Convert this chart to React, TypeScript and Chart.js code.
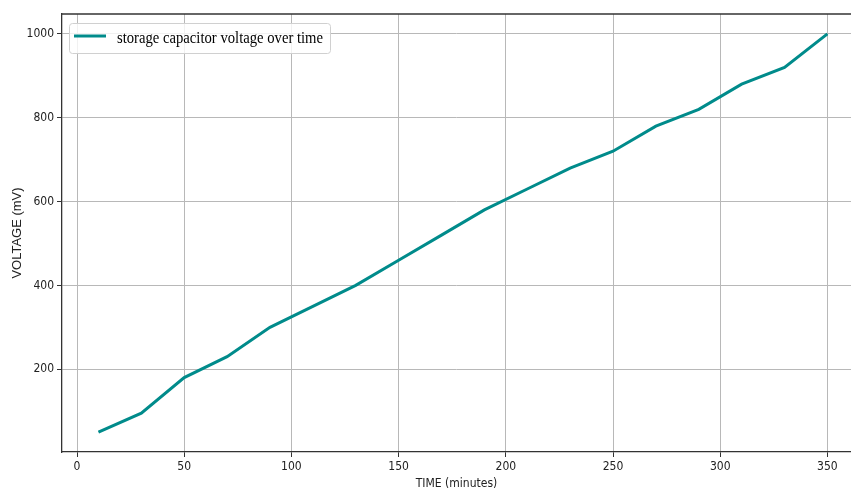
import { useEffect, useRef } from "react";
import { Chart, registerables } from "chart.js";

Chart.register(...registerables);

// ---- data ----
const times = [10, 30, 50, 70, 90, 110, 130, 150, 170, 190, 210, 230, 250, 270, 290, 310, 330, 350];
const voltages = [50, 95, 180, 230, 300, 350, 400, 460, 520, 580, 630, 680, 720, 780, 820, 880, 920, 1000];
const xTicks = [0, 50, 100, 150, 200, 250, 300, 350];
const yTicks = [200, 400, 600, 800, 1000];
const seriesLabel = "storage capacitor voltage over time";
const xTitle = "TIME (minutes)";
const yTitle = "VOLTAGE (mV)";

const LINE_COLOR = "#008b8b";
const SPINE = "#333333";
const GRID = "#b8b8b8";
const TICK_FONT = "'DejaVu Sans Condensed', 'DejaVu Sans', sans-serif";

const topSpine = {
  id: "topSpine",
  afterDraw(chart: any) {
    const { ctx, chartArea } = chart;
    ctx.save();
    ctx.strokeStyle = SPINE;
    ctx.lineWidth = 1.3;
    ctx.beginPath();
    ctx.moveTo(chartArea.left, chartArea.top);
    ctx.lineTo(chartArea.right, chartArea.top);
    ctx.stroke();
    ctx.restore();
  },
};

const innerLegend = {
  id: "innerLegend",
  afterDraw(chart: any) {
    const { ctx, chartArea } = chart;
    const ds = chart.data.datasets[0];
    const x0 = chartArea.left + 7;
    const y0 = chartArea.top + 9;
    const w = 261;
    const h = 30;
    ctx.save();
    ctx.fillStyle = "rgba(255,255,255,0.8)";
    ctx.strokeStyle = "#d0d0d0";
    ctx.lineWidth = 1;
    ctx.beginPath();
    (ctx as any).roundRect(x0 + 0.5, y0 + 0.5, w, h, 3);
    ctx.fill();
    ctx.stroke();
    ctx.strokeStyle = ds.borderColor;
    ctx.lineWidth = 3;
    ctx.beginPath();
    ctx.moveTo(x0 + 5, y0 + 13);
    ctx.lineTo(x0 + 37, y0 + 13);
    ctx.stroke();
    ctx.fillStyle = "#000";
    ctx.font = "16px 'Liberation Serif', 'Times New Roman', serif";
    ctx.textBaseline = "alphabetic";
    const text = ds.label;
    const mw = ctx.measureText(text).width;
    const target = 206;
    const sx = Math.min(1, target / mw);
    ctx.translate(x0 + 48, y0 + 19.5);
    ctx.scale(sx, 1);
    ctx.fillText(text, 0, 0);
    ctx.restore();
  },
};

export default function App() {
  const ref = useRef<HTMLCanvasElement | null>(null);

  useEffect(() => {
    document.body.style.margin = "0";
    const canvas = ref.current;
    if (!canvas) return;
    const chart = new Chart(canvas, {
      type: "line",
      data: {
        datasets: [
          {
            label: seriesLabel,
            data: times.map((t, i) => ({ x: t, y: voltages[i] })),
            borderColor: LINE_COLOR,
            backgroundColor: LINE_COLOR,
            borderWidth: 3,
            pointRadius: 0,
            tension: 0,
            fill: false,
          },
        ],
      },
      options: {
        responsive: false,
        animation: false,
        layout: { padding: { top: 14, right: 0, left: 0, bottom: 0 } },
        plugins: {
          legend: { display: false },
          tooltip: { enabled: false },
        },
        scales: {
          x: {
            type: "linear",
            min: -7,
            max: 361,
            afterBuildTicks: (scale: any) => {
              scale.ticks = xTicks.map((v) => ({ value: v }));
            },
            afterFit: (scale: any) => {
              scale.height = 39;
            },
            grid: {
              color: GRID,
              lineWidth: 1,
              drawTicks: true,
              tickLength: 5,
              tickColor: SPINE,
              tickWidth: 1,
            },
            border: { display: true, color: SPINE, width: 1.3 },
            ticks: {
              color: "#222",
              font: { family: TICK_FONT, size: 12 },
              padding: 3,
              maxRotation: 0,
              autoSkip: false,
              callback: (v: any) => String(v),
            },
            title: {
              display: true,
              text: xTitle,
              color: "#222",
              font: { family: TICK_FONT, size: 12 },
              padding: { top: 0, bottom: 0 },
            },
          },
          y: {
            type: "linear",
            min: 2.5,
            max: 1047.5,
            afterBuildTicks: (scale: any) => {
              scale.ticks = yTicks.map((v) => ({ value: v }));
            },
            afterFit: (scale: any) => {
              scale.width = 62;
            },
            grid: {
              color: GRID,
              lineWidth: 1,
              drawTicks: true,
              tickLength: 5,
              tickColor: SPINE,
              tickWidth: 1,
            },
            border: { display: true, color: SPINE, width: 1.3 },
            ticks: {
              color: "#222",
              font: { family: TICK_FONT, size: 12 },
              padding: 3,
              autoSkip: false,
              callback: (v: any) => String(v),
            },
            title: {
              display: true,
              text: yTitle,
              color: "#222",
              font: { family: "'Liberation Sans', Arial, sans-serif", size: 13 },
              padding: { top: 10, bottom: 0 },
            },
          },
        },
      },
      plugins: [topSpine, innerLegend],
    } as any);
    return () => chart.destroy();
  }, []);

  return (
    <div style={{ position: "fixed", left: 0, top: 0, width: 851, height: 491 }}>
      <canvas ref={ref} width={851} height={491} />
    </div>
  );
}
